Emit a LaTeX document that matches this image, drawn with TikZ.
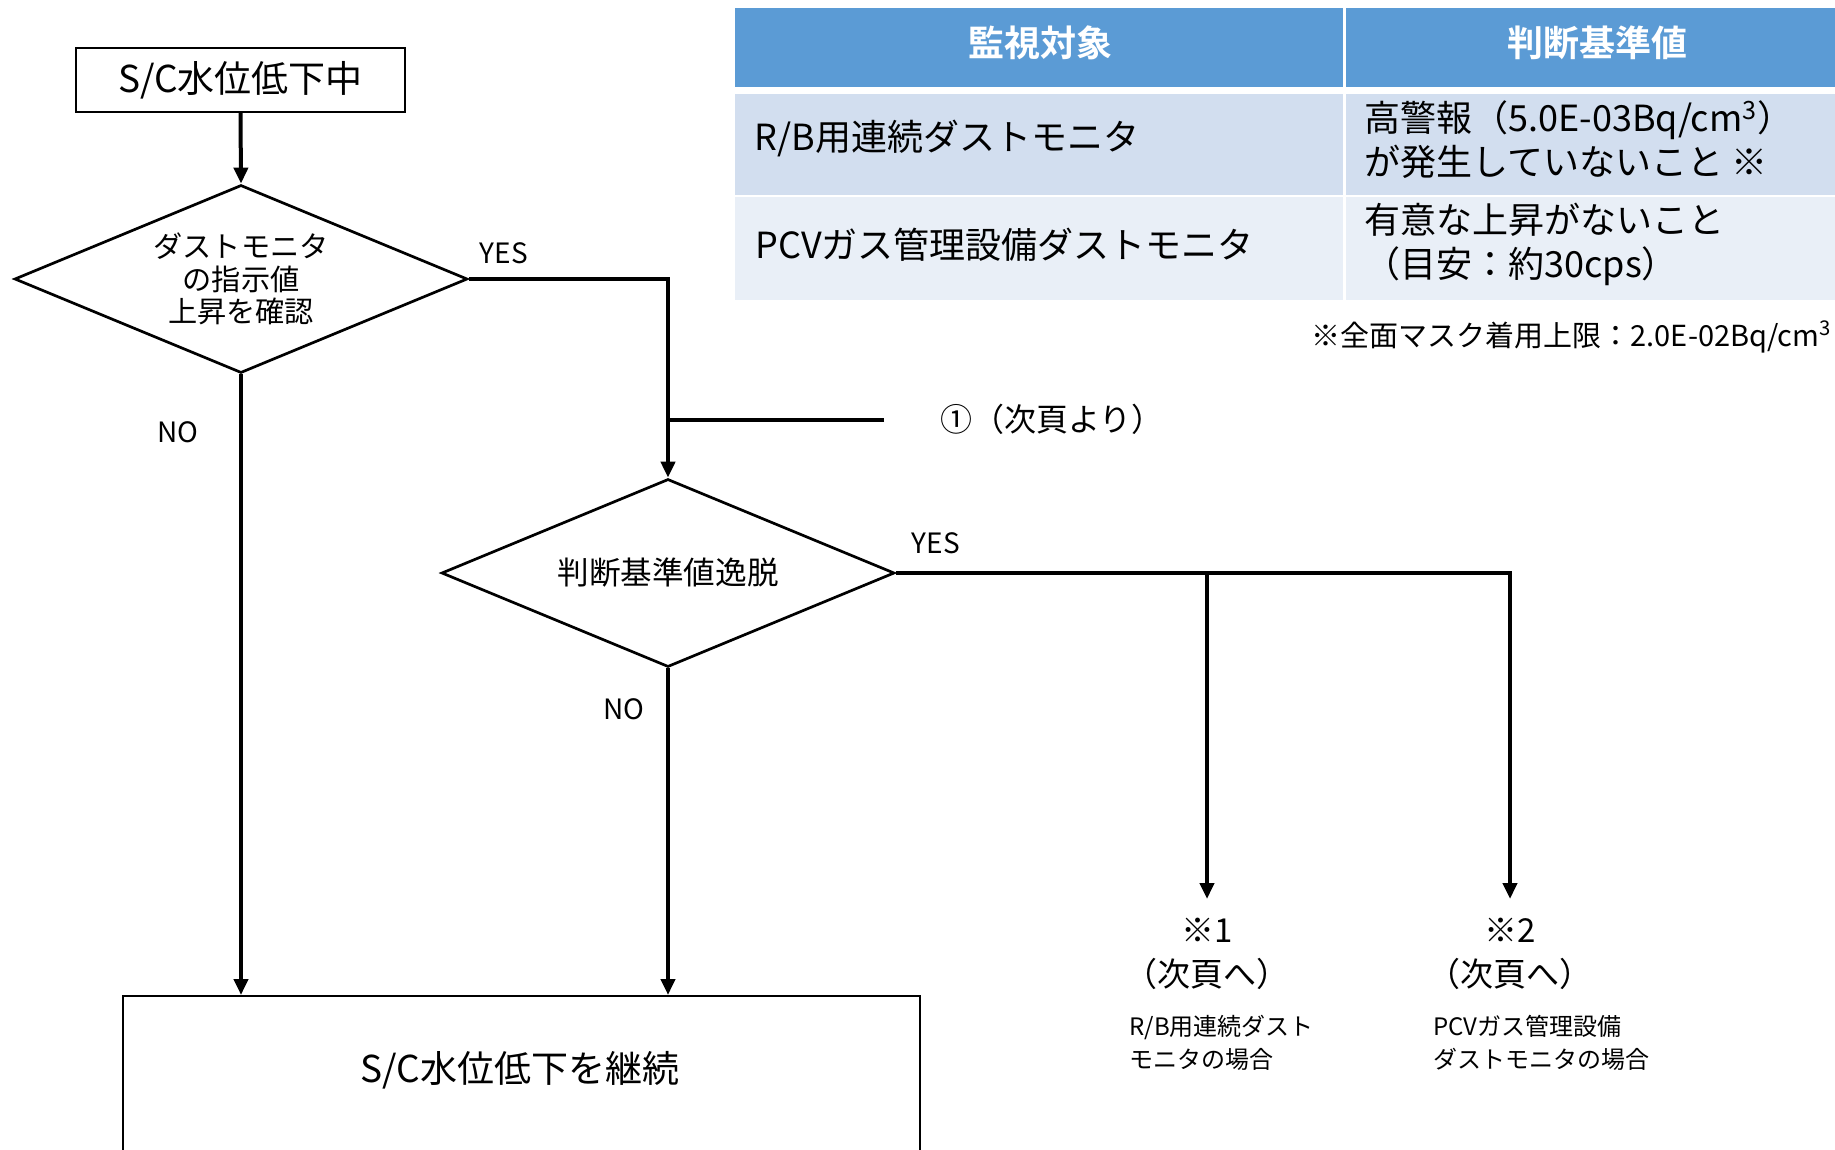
\documentclass[tikz,border=0pt]{standalone}
\usepackage{fontspec}
\setmainfont{Noto Sans CJK JP}[BoldFont={Noto Sans CJK JP Bold}]
\usetikzlibrary{shapes.geometric,arrows.meta}
\definecolor{hdrblue}{HTML}{5B9BD5}
\definecolor{rowdark}{HTML}{D2DEEF}
\definecolor{rowlight}{HTML}{E9EFF7}
\begin{document}
\begin{tikzpicture}[x=0.5pt,y=-0.5pt,
  conn/.style={line width=2pt},
  arr/.style={-{Triangle[length=8pt,width=7pt]}},
  flowbox/.style={draw,line width=1pt,inner sep=0pt},
  diam/.style={draw,shape=diamond,line width=1.35pt,inner sep=0pt,aspect=2.4,
    minimum width=226.5pt,minimum height=94pt,align=center},
  yn/.style={font=\fontsize{14pt}{16pt}\selectfont,inner sep=0pt},
  tabtxt/.style={font=\fontsize{18pt}{22pt}\selectfont,inner sep=0pt,align=left},
  tabhdr/.style={font=\fontsize{18pt}{22pt}\selectfont\bfseries,text=white,inner sep=0pt},
  goto/.style={anchor=north,inner xsep=0pt,inner ysep=9.5pt,align=center,font=\fontsize{16.5pt}{22pt}\selectfont},
  small/.style={anchor=west,inner sep=0pt,align=left,font=\fontsize{12pt}{16.5pt}\selectfont},
]
\useasboundingbox (0,0) rectangle (1835,1150);
\clip (0,0) rectangle (1835,1150);

% table
\fill[hdrblue] (735,8) rectangle (1343,87);
\fill[hdrblue] (1346,8) rectangle (1840,87);
\fill[rowdark] (735,94) rectangle (1343,195);
\fill[rowdark] (1346,94) rectangle (1840,195);
\fill[rowlight] (735,197) rectangle (1343,300);
\fill[rowlight] (1346,197) rectangle (1840,300);

\node[tabhdr] (h1) at (1040,43) {監視対象};
\node[tabhdr] (h2) at (1597,43) {判断基準値};
\node[tabtxt,anchor=west] (r1a) at (754,138) {R/B用連続ダストモニタ};
\node[tabtxt,anchor=west] (r1b) at (1364,140) {高警報（5.0E-03Bq/cm\textsuperscript{3}）\\が発生していないこと ※};
\node[tabtxt,anchor=west] (r2a) at (755,245) {PCVガス管理設備ダストモニタ};
\node[tabtxt,anchor=west] (r2b) at (1364,244.5) {有意な上昇がないこと\\（目安：約30cps）};
\node[anchor=east,inner sep=0pt,font=\fontsize{14.5pt}{17pt}\selectfont] (fn) at (1832,337) {※全面マスク着用上限：2.0E-02Bq/cm\textsuperscript{3}};

% flowchart
\node[flowbox,minimum width=164.5pt,minimum height=32pt,font=\fontsize{18.5pt}{22pt}\selectfont] (start) at (240.5,80) {S/C水位低下中};
\node[diam,font=\fontsize{14.6pt}{16.25pt}\selectfont] (d1) at (241,279) {ダストモニタ\\の指示値\\上昇を確認};
\node[diam,font=\fontsize{15.8pt}{18pt}\selectfont] (d2) at (668,573) {判断基準値逸脱};
\node[flowbox,minimum width=398.5pt,minimum height=100pt] (endbox) at (521.5,1096) {};
\node[inner sep=0pt,font=\fontsize{18.5pt}{22pt}\selectfont] (endtxt) at (520,1070) {S/C水位低下を継続};

\node[yn] (yes1) at (504,253) {YES};
\node[yn] (no1) at (178,432) {NO};
\node[yn] (yes2) at (936,543) {YES};
\node[yn] (no2) at (624,709) {NO};

\node[inner sep=0pt,font=\fontsize{16pt}{18pt}\selectfont] (ref) at (1052,419) {①（次頁より）};
\coordinate (j) at (884,420);

\node[goto] (n1) at (1207,899) {※1\\（次頁へ）};
\node[goto] (n2) at (1510,899) {※2\\（次頁へ）};
\node[small] (s1) at (1129,1043) {R/B用連続ダスト\\モニタの場合};
\node[small] (s2) at (1433,1043) {PCVガス管理設備\\ダストモニタの場合};

\draw[conn,arr] (start.south) -- (d1.north);
\draw[conn,arr] (d1.east) -| (d2.north);
\draw[conn] (j) -- (j -| d2.north);
\draw[conn,arr] (d1.south) -- (d1.south |- endbox.north);
\draw[conn,arr] (d2.south) -- (d2.south |- endbox.north);
\draw[conn,arr] (d2.east) -| (n2.north);
\draw[conn,arr] (d2.east -| n1.north) -- (n1.north);
\end{tikzpicture}
\end{document}
